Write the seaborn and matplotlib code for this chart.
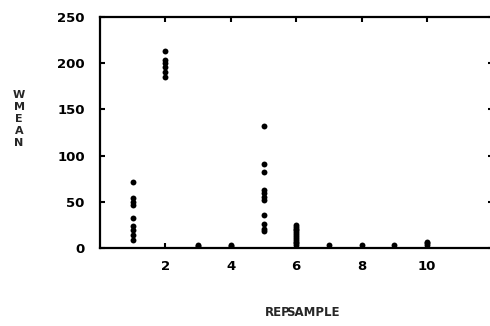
import matplotlib
matplotlib.use("Agg")
import matplotlib.pyplot as plt
import seaborn as sns
import pandas as pd

# Data
rep1 = [71, 54, 50, 46, 33, 24, 19, 14, 9]
rep2 = [213, 204, 200, 196, 190, 185]
rep3 = [3, 2]
rep4 = [3, 2]
rep5 = [132, 91, 82, 63, 59, 55, 52, 36, 26, 21, 18]
rep6 = [25, 23, 21, 19, 17, 15, 13, 11, 9, 7, 5, 3]
rep7 = [3]
rep8 = [3]
rep9 = [3]
rep10 = [7, 5, 3]
groups = [rep1, rep2, rep3, rep4, rep5, rep6, rep7, rep8, rep9, rep10]
reps = list(range(1, 11))

xticks = [2, 4, 6, 8, 10]
yticks = [0, 50, 100, 150, 200, 250]

rows = []
for r, vals in zip(reps, groups):
    for v in vals:
        rows.append({"REP": r, "WMEAN": v})
df = pd.DataFrame(rows)

sns.set_style("white")
plt.rcParams['font.family'] = ['DejaVu Sans']

fig = plt.figure(figsize=(4.9, 3.26), dpi=100)
ax = fig.add_axes([100 / 490, 78 / 326, 392.5 / 490, 231 / 326])

sns.scatterplot(data=df, x="REP", y="WMEAN", ax=ax, color="black",
                s=18, edgecolor="black", linewidth=0, legend=False)

ax.set_xlim(0, 12)
ax.set_ylim(0, 250)
ax.set_xticks(xticks)
ax.set_yticks(yticks)
ax.set_xticklabels([str(t) for t in xticks], fontweight="bold", fontsize=9.5)
ax.set_yticklabels([str(t) for t in yticks], fontweight="bold", fontsize=9.5)
ax.tick_params(axis="x", direction="in", length=3.5, width=1.5, top=True,
               bottom=True, pad=9, colors="black")
ax.tick_params(axis="y", direction="in", length=3.5, width=1.5, left=True,
               right=True, pad=11, colors="black")
for sp in ax.spines.values():
    sp.set_linewidth(1.6)
    sp.set_color("black")

ax.set_xlabel("")
ax.set_ylabel("")

# stacked y label
fig.text(19 / 490, 1 - 119.5 / 326, "W\nM\nE\nA\nN", ha="center", va="center",
         fontsize=8, fontweight="bold", linespacing=1.25)
# overprinted x label
fig.text(265 / 490, 1 - 313 / 326, "REP", ha="left", va="center",
         fontsize=8.5, fontweight="bold")
fig.text(340 / 490, 1 - 313 / 326, "SAMPLE", ha="right", va="center",
         fontsize=8.5, fontweight="bold")

fig.savefig("out.png", dpi=100)
